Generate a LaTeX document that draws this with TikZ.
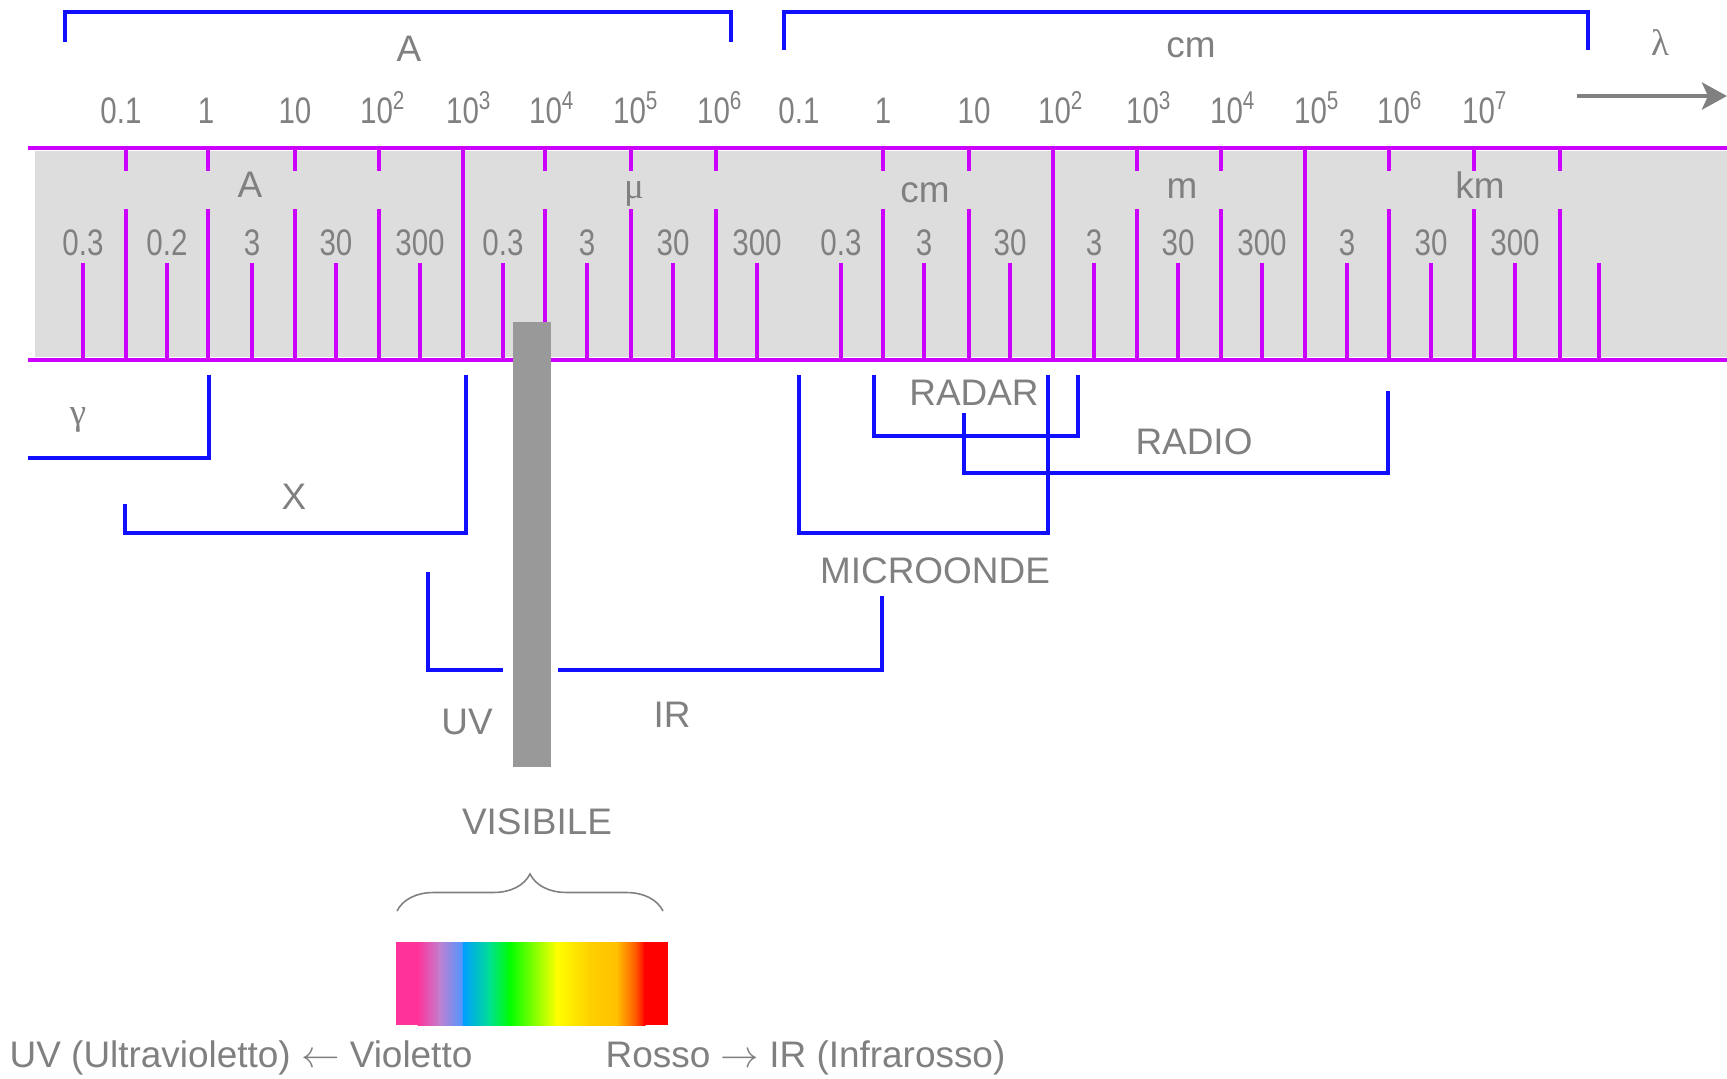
\documentclass[tikz,border=0pt]{standalone}
\usepackage{fontspec}
\setmainfont{Liberation Sans}
\newfontfamily\greco{Liberation Serif}
\usetikzlibrary{arrows.meta,decorations.pathreplacing}
\definecolor{viola}{RGB}{204,0,255}
\definecolor{blu}{RGB}{16,16,255}
\definecolor{grigiotesto}{RGB}{128,128,128}
\definecolor{grigiobanda}{RGB}{221,221,221}
\definecolor{grigiobarra}{RGB}{153,153,153}
\definecolor{sp0}{RGB}{255,51,153}
\definecolor{sp1}{RGB}{192,128,208}
\definecolor{sp2}{RGB}{80,150,255}
\definecolor{sp3}{RGB}{0,160,255}
\definecolor{sp4}{RGB}{0,224,144}
\definecolor{sp5}{RGB}{0,255,0}
\definecolor{sp6}{RGB}{255,255,0}
\definecolor{sp7}{RGB}{255,208,0}
\definecolor{sp8}{RGB}{255,192,0}
\definecolor{sp9}{RGB}{255,80,0}
\definecolor{sp10}{RGB}{255,0,0}
\newcommand\stretto[1]{\scalebox{0.8}[1]{#1}}

\begin{document}
\begin{tikzpicture}[x=0.01cm,y=-0.01cm,>={Stealth[length=0.25cm,width=0.27cm,inset=0.06cm]},font=\fontsize{10.5}{12}\selectfont]
 \tikzstyle{testo}=[text=grigiotesto,inner sep=0pt]
 \tikzstyle{numero}=[testo,anchor=base]
 \tikzstyle{tacca}=[viola,line width=0.045cm]
 \tikzstyle{parentesi}=[blu,line width=0.047cm]

   \useasboundingbox (0,0) rectangle (1727,1078);

   \fill[grigiobanda] (35,151) rectangle (1727,357);
   \draw[tacca] (28,148) -- (1727,148);
   \draw[tacca] (28,360) -- (1727,360);
   \foreach \x in {463,1053,1305}
     \draw[tacca] (\x,148) -- (\x,360);
   \foreach \x in {126,208,295,379,545,631,716,883,969,1137,1221,1389,1474,1560}
     {\draw[tacca] (\x,148) -- (\x,171); \draw[tacca] (\x,209) -- (\x,360);}
   \foreach \x/\t [count=\i] in {83/0.3,167/0.2,252/3,336/30,420/300,503/0.3,587/3,673/30,757/300,841/0.3,924/3,1010/30,1094/3,1178/30,1262/300,1347/3,1431/30,1515/300}
     {\draw[tacca] (\x,263) -- (\x,360); \node[numero] (b\i) at (\x,255) {\stretto{\t}};}
   \draw[tacca] (1599,263) -- (1599,360);

   \node[numero] (bA) at (250,197) {A};
   \node[numero] (bmu) at (634,198) {\greco μ};
   \node[numero] (bcm) at (925,202) {cm};
   \node[numero] (bm) at (1182,198) {m};
   \node[numero] (bkm) at (1480,198) {km};

   \foreach \x/\t [count=\i] in {121/0.1,206/1,295/10,383/10\textsuperscript{2},469/10\textsuperscript{3},552/10\textsuperscript{4},636/10\textsuperscript{5},720/10\textsuperscript{6},799/0.1,883/1,974/10,1061/10\textsuperscript{2},1149/10\textsuperscript{3},1233/10\textsuperscript{4},1317/10\textsuperscript{5},1400/10\textsuperscript{6},1485/10\textsuperscript{7}}
     \node[numero] (s\i) at (\x,123) {\stretto{\t}};

   \draw[parentesi] (65,42) -- (65,12) -- (731,12) -- (731,42);
   \draw[parentesi] (784,50) -- (784,12) -- (1588,12) -- (1588,50);
   \node[numero] (angstrom) at (409,61) {A};
   \node[numero] (centimetri) at (1191,57) {cm};
   \node[numero] (lambda) at (1660,55) {\greco λ};
   \coordinate (freccia0) at (1577,96);
   \coordinate (freccia1) at (1727,96);
   \draw[->,grigiotesto,line width=0.047cm] (freccia0) -- (freccia1);

   \fill[grigiobarra] (513,322) rectangle (551,767);

   \draw[parentesi] (209,375) -- (209,458) -- (28,458);
   \draw[parentesi] (125,504) -- (125,533) -- (466,533) -- (466,375);
   \draw[parentesi] (428,572) -- (428,670) -- (503,670);
   \draw[parentesi] (558,670) -- (882,670) -- (882,596);
   \draw[parentesi] (799,375) -- (799,533) -- (1048,533) -- (1048,375);
   \draw[parentesi] (874,375) -- (874,436) -- (1078,436) -- (1078,375);
   \draw[parentesi] (964,413) -- (964,473) -- (1388,473) -- (1388,391);

   \node[testo] (gamma) at (78,420) {\greco γ};
   \node[testo] (raggix) at (294,497) {X};
   \node[testo] (uv) at (467,722) {UV};
   \node[testo] (ir) at (672,715) {IR};
   \node[testo] (radar) at (974,393) {RADAR};
   \node[testo] (radio) at (1194,442) {RADIO};
   \node[testo] (microonde) at (935,571) {MICROONDE};
   \node[testo] (visibile) at (537,822) {VISIBILE};

   \draw[grigiotesto,line width=0.45pt,decorate,decoration={brace,amplitude=0.37cm}] (397,911) -- (663,911);

   \fill[sp0] (396,942) rectangle (419,1025);
   \foreach \a/\b/\ca/\cb in {418/440/sp0/sp1,440/462/sp1/sp2,462/464/sp2/sp3,464/490/sp3/sp4,490/510/sp4/sp5,510/557/sp5/sp6,557/590/sp6/sp7,590/617/sp7/sp8,617/637/sp8/sp9,637/645/sp9/sp10}
     \shade[left color=\ca,right color=\cb] (\a-0.5,942) rectangle (\b+0.5,1025);
   \fill[sp10] (644,942) rectangle (668,1025);

   \node[testo,anchor=base west] (violetto) at (9,1067) {UV (Ultravioletto) $\leftarrow$ Violetto};
   \node[testo,anchor=base west] (rosso) at (605,1067) {Rosso $\rightarrow$ IR (Infrarosso)};

\end{tikzpicture}
\end{document}
